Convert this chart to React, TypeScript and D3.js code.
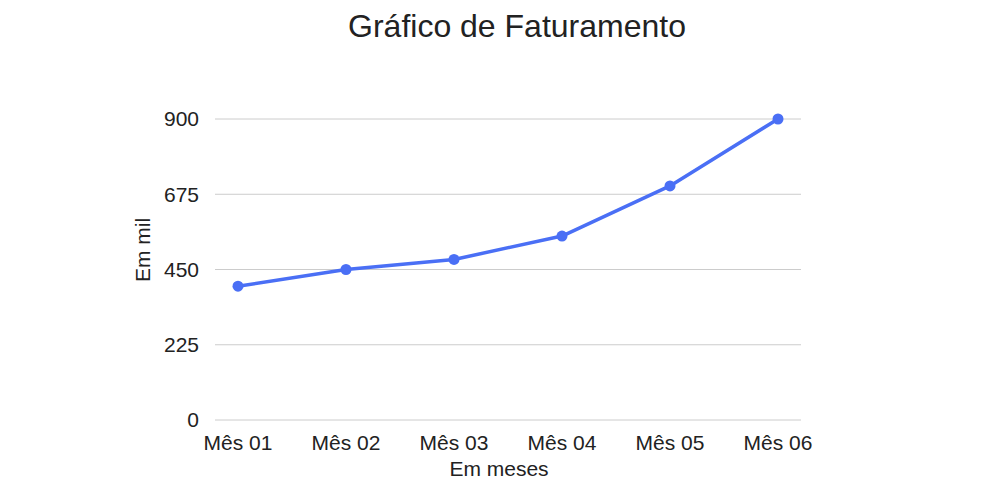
import * as d3 from 'd3';

const months = ['Mês 01', 'Mês 02', 'Mês 03', 'Mês 04', 'Mês 05', 'Mês 06'];
const revenue = [400, 450, 480, 550, 700, 900];
const yTicks = [0, 225, 450, 675, 900];

const width = 1000;
const height = 500;
const font = "'Liberation Sans', Arial, sans-serif";
const ink = '#222';
const lineColor = '#4a6ff5';

export default function App() {
  const x = d3.scalePoint<string>().domain(months).range([215, 801]).padding(0.213);
  const y = d3.scaleLinear().domain([0, 900]).range([420, 119]);

  const line = d3
    .line<number>()
    .x((_, i) => x(months[i]) ?? 0)
    .y((d) => y(d));

  return (
    <svg
      width={width}
      height={height}
      style={{ position: 'absolute', left: 0, top: 0, background: '#fff' }}
      fontFamily={font}
    >
      <text x={517} y={37} textAnchor='middle' fontSize={32} fill={ink}>
        Gráfico de Faturamento
      </text>

      {/* grid + y ticks */}
      {yTicks.map((t) => (
        <g key={t}>
          <line x1={215} x2={801} y1={y(t)} y2={y(t)} stroke='#cccccc' strokeWidth={1} />
          <text x={199} y={y(t)} dy='0.35em' textAnchor='end' fontSize={21} fill={ink}>
            {t}
          </text>
        </g>
      ))}

      {/* x ticks */}
      {months.map((m) => (
        <text key={m} x={x(m)} y={450} textAnchor='middle' fontSize={21} fill={ink}>
          {m}
        </text>
      ))}

      <text x={499} y={476} textAnchor='middle' fontSize={21} fill={ink}>
        Em meses
      </text>
      <text
        transform='translate(150,250) rotate(-90)'
        textAnchor='middle'
        fontSize={21}
        fill={ink}
      >
        Em mil
      </text>

      <path d={line(revenue) ?? ''} fill='none' stroke={lineColor} strokeWidth={3.5} strokeLinejoin='round' />
      {revenue.map((v, i) => (
        <circle key={months[i]} cx={x(months[i])} cy={y(v)} r={5.5} fill={lineColor} />
      ))}
    </svg>
  );
}
